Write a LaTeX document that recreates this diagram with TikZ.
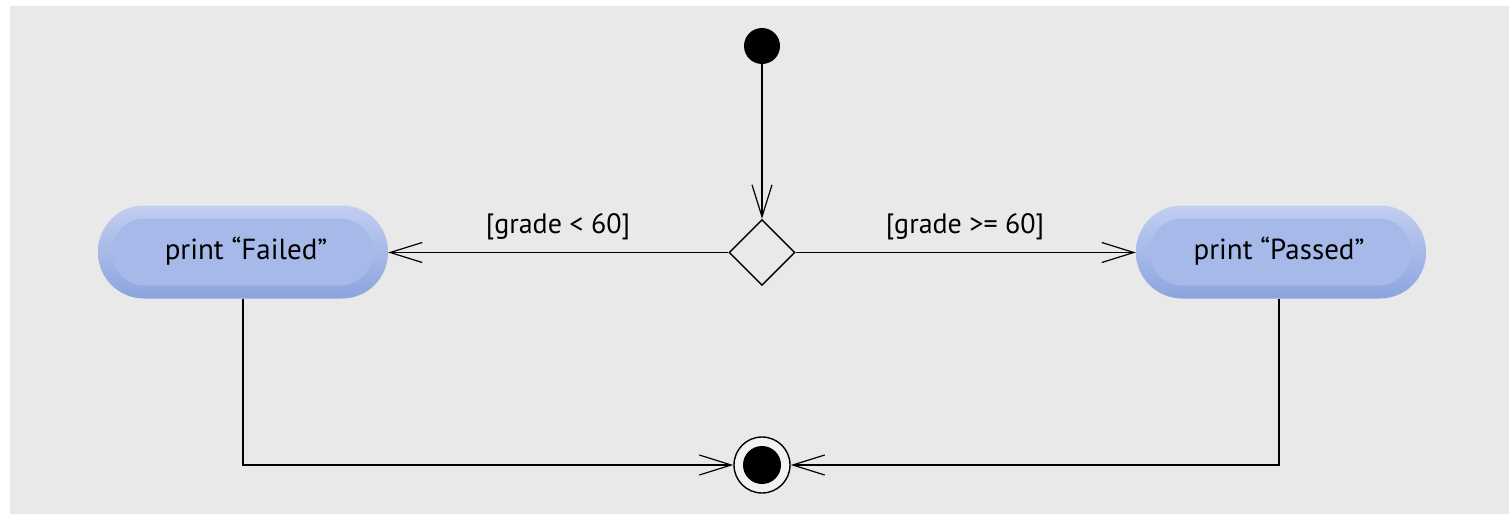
\documentclass[tikz,border=0pt]{standalone}
\usepackage{fontspec}
\setmainfont{PT Sans}
\usetikzlibrary{arrows.meta,shapes.geometric}
\definecolor{bgcol}{HTML}{E9E9E9}
\definecolor{pilltop}{HTML}{C2CEF1}
\definecolor{pillbot}{HTML}{8CA4DE}
\definecolor{pillin}{HTML}{A6B9E9}
\tikzset{
  pillouter/.style={draw=none, minimum width=290pt, minimum height=93pt, rounded corners=46pt, top color=pilltop, bottom color=pillbot, inner sep=0pt},
  pillinner/.style={fill=pillin, rounded corners=33pt},
  pilltext/.style={font=\fontsize{29}{32}\selectfont, inner sep=0pt},
  guard/.style={font=\fontsize{28}{31}\selectfont, inner sep=0pt},
  flow/.style={line width=1.4pt, -{Straight Barb[length=32pt,width=20pt,line width=1.2pt]}},
  initnode/.style={circle, fill=black, minimum size=36pt, inner sep=0pt},
  decision/.style={diamond, draw, line width=1.4pt, minimum width=66pt, minimum height=66pt, inner sep=0pt, aspect=1},
  finalouter/.style={circle, draw, line width=1.4pt, fill=bgcol!60!white, minimum size=56pt, inner sep=0pt},
  finalinner/.style={circle, fill=black, minimum size=38pt, inner sep=0pt}
}
\begin{document}
\begin{tikzpicture}[x=1pt,y=-1pt]
\useasboundingbox (0,0) rectangle (1509,514);
\fill[bgcol] (10,6) rectangle (1509,514);
% initial
\node[initnode] (init) at (762,46) {};
% decision
\node[decision] (dec) at (762,252.5) {};
% failed
\node[pillouter] (fail) at (243,252) {};
\fill[pillinner] (112,218.5) rectangle (373,285.5);
\node[pilltext] (failtxt) at (246,251) {print “Failed”};
% passed
\node[pillouter] (pass) at (1281,252) {};
\fill[pillinner] (1150,218.5) rectangle (1411,285.5);
\node[pilltext] (passtxt) at (1279,251) {print “Passed”};
% final
\node[finalouter] (final) at (762,465) {};
\node[finalinner] (finaldot) at (762,465) {};
% connectors
\draw[flow] (init) -- (dec.north);
\draw[flow] (dec.west) -- (dec.west -| fail.east);
\draw[flow] (dec.east) -- (dec.east -| pass.west);
\draw[flow] (fail.south) |- (final.west);
\draw[flow] ([xshift=-2pt]pass.south) |- (final.east);
% guards
\node[guard] (g1) at (558,227) {[grade < 60]};
\node[guard] (g2) at (965,227) {[grade >= 60]};
\end{tikzpicture}
\end{document}
